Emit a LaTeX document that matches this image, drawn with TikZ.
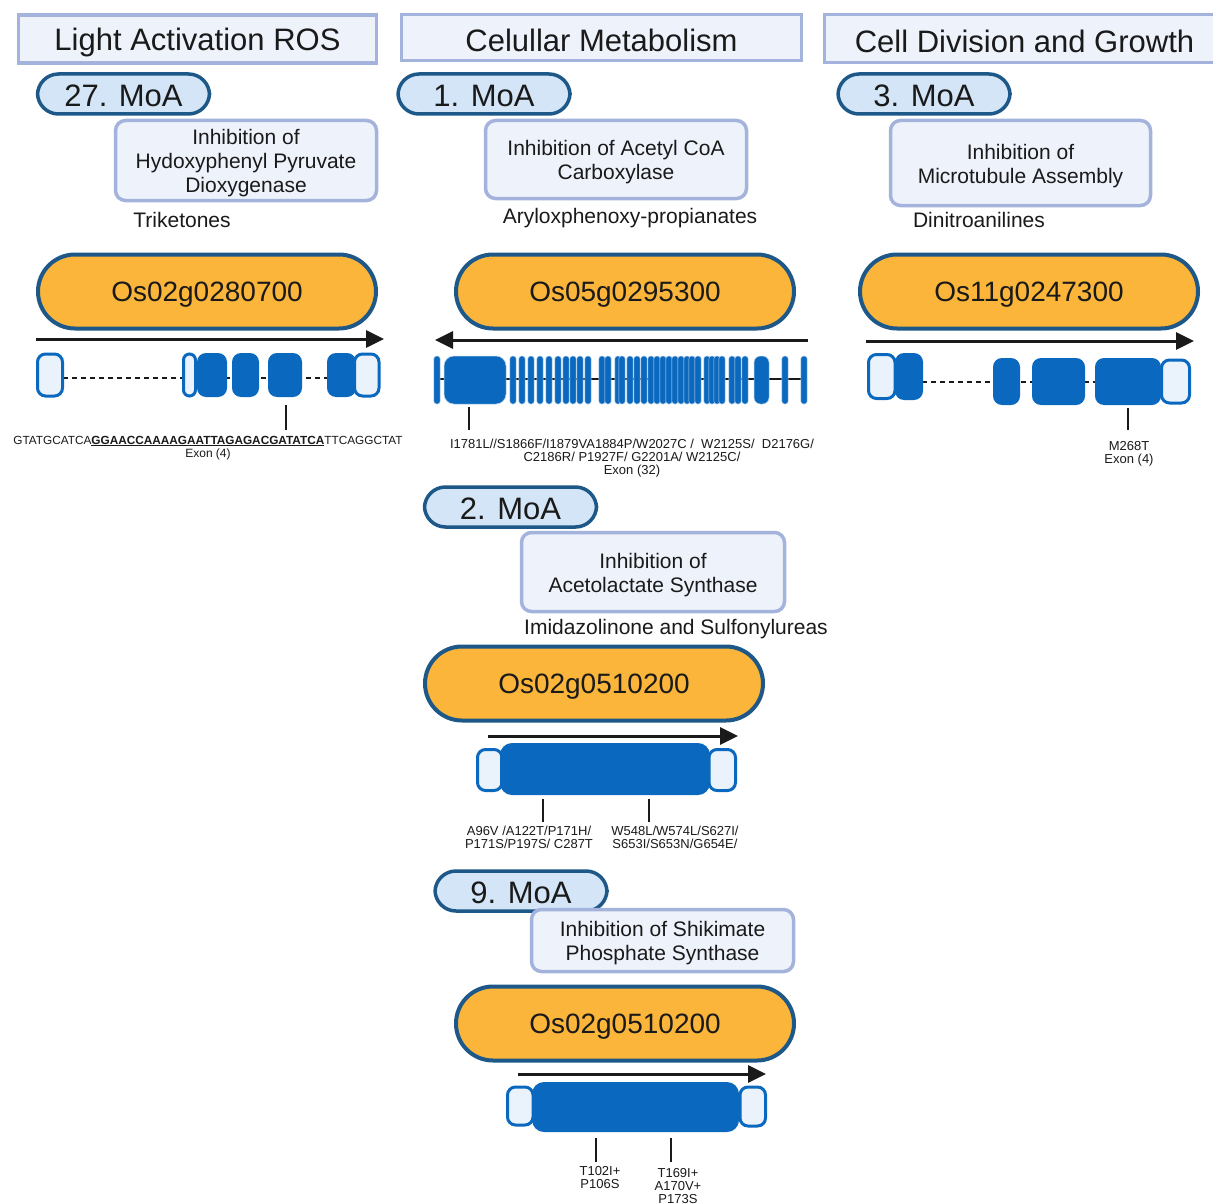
\documentclass[tikz,border=0pt]{standalone}
\usepackage{fontspec}
\setmainfont{Liberation Sans}
\usetikzlibrary{arrows.meta}
\definecolor{hdrfill}{HTML}{EEF2FB}
\definecolor{hdrline}{HTML}{A3B3DB}
\definecolor{pillfill}{HTML}{D3E5F6}
\definecolor{darkline}{HTML}{1D5888}
\definecolor{genefill}{HTML}{FBB53A}
\definecolor{exonblue}{HTML}{0A68BE}
\definecolor{utrfill}{HTML}{EAF2FC}
\definecolor{txt}{HTML}{1A1A1A}
\begin{document}
\begin{tikzpicture}[x=1pt,y=-1pt,
  every node/.style={text=txt},
  hdr/.style={draw=hdrline, line width=3.5pt, fill=hdrfill, inner sep=0pt},
  bigtext/.style={inner sep=0pt, font=\fontsize{31}{36}\selectfont},
  moa/.style={draw=darkline, line width=3.5pt, fill=pillfill, inner sep=0pt,
    rounded corners=21pt, minimum width=172pt, minimum height=40pt},
  inhib/.style={draw=hdrline, line width=3.5pt, fill=hdrfill, inner sep=0pt,
    rounded corners=10pt},
  inhibtext/.style={inner sep=0pt, align=center, font=\fontsize{21}{24}\selectfont},
  chem/.style={inner sep=0pt, font=\fontsize{21}{24}\selectfont},
  gene/.style={draw=darkline, line width=4pt, fill=genefill, inner sep=0pt,
    rounded corners=37pt, minimum width=338pt, minimum height=74pt},
  genetext/.style={inner sep=0pt, font=\fontsize{28}{32}\selectfont},
  dirarrow/.style={line width=3pt, draw=txt, -{Triangle[length=18pt,width=17pt]}},
  exon/.style={fill=exonblue, rounded corners=9pt},
  utr/.style={draw=exonblue, fill=utrfill, line width=3pt, rounded corners=8pt},
  bar/.style={fill=exonblue, draw=white!70!exonblue, line width=0.5pt, rounded corners=2.8pt},
  intron/.style={line width=2pt, draw=txt, dash pattern=on 5pt off 4pt},
  tickmark/.style={line width=2pt, draw=txt},
  mut/.style={inner sep=0pt, align=center, font=\fontsize{13}{13}\selectfont}
]
\useasboundingbox (0,0) rectangle (1213,1204);
\fill[white] (0,0) rectangle (1213,1204);

% ---------- headers ----------
\node[hdr, minimum width=358pt, minimum height=48pt] (h1) at (197.5,39) {};
\node[hdr, minimum width=400pt, minimum height=46pt] (h2) at (601.5,37.5) {};
\node[hdr, minimum width=400pt, minimum height=48pt] (h3) at (1024.5,38.5) {};
\node[bigtext] (h1t) at ([yshift=-3pt]h1.center) {Light Activation ROS};
\node[bigtext] (h2t) at ([yshift=-3pt]h2.center) {Celullar Metabolism};
\node[bigtext] (h3t) at ([yshift=-3pt]h3.center) {Cell Division and Growth};

% ---------- MoA pills ----------
\node[moa] (m27) at (123.5,94) {};
\node[moa] (m1) at (484,94) {};
\node[moa] (m3) at (924,94) {};
\node[moa] (m2) at (510.5,507) {};
\node[moa] (m9) at (521,891) {};
\node[bigtext] (m27t) at ([yshift=-1.5pt]m27.center) {27. MoA};
\node[bigtext] (m1t) at ([yshift=-1.5pt]m1.center) {1. MoA};
\node[bigtext] (m3t) at ([yshift=-1.5pt]m3.center) {3. MoA};
\node[bigtext] (m2t) at ([yshift=-1.5pt]m2.center) {2. MoA};
\node[bigtext] (m9t) at ([yshift=-1.5pt]m9.center) {9. MoA};

% ---------- inhibition boxes ----------
\node[inhib, minimum width=261pt, minimum height=80pt] (i27) at (246,160.5) {};
\node[inhib, minimum width=261pt, minimum height=78pt] (i1) at (616,159.5) {};
\node[inhib, minimum width=260pt, minimum height=85pt] (i3) at (1020.5,163) {};
\node[inhib, minimum width=263pt, minimum height=79pt] (i2) at (653,572) {};
\node[inhib, minimum width=262pt, minimum height=62pt] (i9) at (662.5,940.5) {};
\node[inhibtext] (i27t) at ([yshift=-3pt]i27.center) {Inhibition of\\Hydoxyphenyl Pyruvate\\Dioxygenase};
\node[inhibtext] (i1t) at ([yshift=-3pt]i1.center) {Inhibition of Acetyl CoA\\Carboxylase};
\node[inhibtext] (i3t) at ([yshift=-3.5pt]i3.center) {Inhibition of\\Microtubule Assembly};
\node[inhibtext] (i2t) at ([yshift=-3pt]i2.center) {Inhibition of\\Acetolactate Synthase};
\node[inhibtext] (i9t) at ([yshift=-3pt]i9.center) {Inhibition of Shikimate\\Phosphate Synthase};

% ---------- chemical classes ----------
\node[chem] (c27) at (182,220) {Triketones};
\node[chem] (c1) at (630,218) {Aryloxphenoxy-propianates};
\node[chem] (c3) at (979,220) {Dinitroanilines};
\node[chem] (c2) at (676,629) {Imidazolinone and Sulfonylureas};

% ---------- genes ----------
\node[gene] (g27) at (207,291.5) {};
\node[gene] (g1) at (625,291.5) {};
\node[gene] (g3) at (1029,291.5) {};
\node[gene] (g2) at (594,683.5) {};
\node[gene] (g9) at (625,1023.5) {};
\node[genetext] (g27t) at ([yshift=-3pt]g27.center) {Os02g0280700};
\node[genetext] (g1t) at ([yshift=-3pt]g1.center) {Os05g0295300};
\node[genetext] (g3t) at ([yshift=-3pt]g3.center) {Os11g0247300};
\node[genetext] (g2t) at ([yshift=-3pt]g2.center) {Os02g0510200};
\node[genetext] (g9t) at ([yshift=-3pt]g9.center) {Os02g0510200};

% ---------- direction arrows ----------
\draw[dirarrow] (36,339) -- (384,339);
\draw[dirarrow] (808,340) -- (435,340);
\draw[dirarrow] (866,341) -- (1194,341);
\draw[dirarrow] (488,736) -- (738,736);
\draw[dirarrow] (518,1074) -- (766,1074);

% ---------- HPPD gene structure ----------
\draw[intron] (63,378) -- (330,378);
\draw[utr] (37.5,354) rectangle (62.5,396);
\draw[utr, rounded corners=6pt] (183.5,354) rectangle (195.5,396);
\fill[exon] (197,353) rectangle (227,397);
\fill[exon] (232,353) rectangle (259,397);
\fill[exon] (268,353) rectangle (302,397);
\fill[exon] (327,353) rectangle (356,397);
\draw[utr] (354.5,354) rectangle (379,396);
\draw[tickmark] (286,405) -- (286,430);
\node[inner sep=0pt, font=\fontsize{11.8}{12}\selectfont] (seq) at (208,441)
  {GTATGCATCA\underline{\textbf{GGAACCAAAAGAATTAGAGACGATATCA}}TTCAGGCTAT};
\node[mut, font=\fontsize{12}{12}\selectfont] (e27) at (208,454) {Exon (4)};

% ---------- ACCase gene structure ----------
\draw[line width=1.5pt, draw=txt] (437,379) -- (804,379);
\foreach \x in {437,513,522,531,540,549,558,566,573,580,588,602,608,618,622,630,637,644,651,657,663,669,675,681,687,692,698,707,712,717,722,732,738,745,785,804}
  \draw[bar] (\x-3.2,356) rectangle (\x+3.2,404);
\draw[bar, rounded corners=10pt] (444,356) rectangle (506,404);
\draw[bar, rounded corners=6.5pt] (754,356) rectangle (769,404);
\draw[tickmark] (469,407) -- (469,430);
\node[mut] (mu1) at (632,458)
  {I1781L//S1866F/I1879VA1884P/W2027C /\ \ W2125S/\ \ D2176G/\\C2186R/ P1927F/ G2201A/ W2125C/\\Exon (32)};

% ---------- Tubulin gene structure ----------
\draw[intron] (895,382) -- (1160,382);
\draw[utr] (868.5,354.5) rectangle (895,398.5);
\fill[exon] (895,353) rectangle (923,400);
\fill[exon] (993,358) rectangle (1020,405);
\fill[exon] (1032,358) rectangle (1085,405);
\fill[exon] (1095,358) rectangle (1161,405);
\draw[utr] (1161.5,360) rectangle (1189.5,403);
\draw[tickmark] (1128,408) -- (1128,430);
\node[mut] (mu3) at (1129,453.5) {M268T\\Exon (4)};

% ---------- ALS gene structure ----------
\draw[utr] (477.5,749.5) rectangle (502,790.5);
\fill[exon, rounded corners=12pt] (500,743) rectangle (710,795);
\draw[utr] (709,749.5) rectangle (735.5,790.5);
\draw[tickmark] (543,799) -- (543,822);
\draw[tickmark] (649,799) -- (649,822);
\node[mut] (mu2a) at (529,837.5) {A96V /A122T/P171H/\\P171S/P197S/ C287T};
\node[mut] (mu2b) at (675,837.5) {W548L/W574L/S627I/\\S653I/S653N/G654E/};

% ---------- EPSPS gene structure ----------
\draw[utr] (507.5,1087) rectangle (533,1125);
\fill[exon, rounded corners=12pt] (532,1082) rectangle (739,1132);
\draw[utr] (740,1087) rectangle (765.5,1126);
\draw[tickmark] (596,1138) -- (596,1162);
\draw[tickmark] (671,1138) -- (671,1162);
\node[mut] (mu9a) at (600,1177.5) {T102I+\\P106S};
\node[mut] (mu9b) at (678,1186) {T169I+\\A170V+\\P173S};
\end{tikzpicture}
\end{document}
